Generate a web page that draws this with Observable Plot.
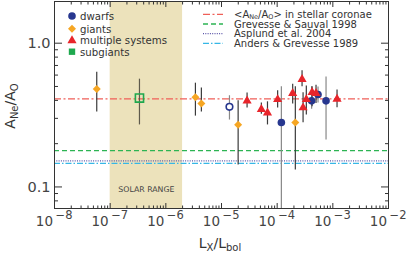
<!DOCTYPE html>
<html><head><meta charset="utf-8">
<script src="https://cdn.jsdelivr.net/npm/d3@7"></script>
<script src="https://cdn.jsdelivr.net/npm/@observablehq/plot@0.6"></script>
<style>html,body{margin:0;padding:0;background:#fff}svg{display:block}</style>
</head><body><div id="chart"></div>
<script>
// ---- data ----
const dwarfX  = [1.39e-5, 1.19e-4, 4.16e-4, 5.42e-4, 7.55e-4];
const dwarfY  = [0.361, 0.281, 0.397, 0.44, 0.397];
const dwarfLo = [0.292, 0.05, 0.347, 0.383, 0.212];
const dwarfHi = [0.431, 0.497, 0.497, 0.495, 0.583];
const dwarfOpen = [true, false, false, false, false];

const giantX  = [5.74e-8, 3.4e-6, 4.35e-6, 1.99e-5, 2.12e-4];
const giantY  = [0.48, 0.42, 0.381, 0.271, 0.281];
const giantLo = [0.332, 0.311, 0.332, 0.142, 0.131];
const giantHi = [0.629, 0.527, 0.487, 0.397, 0.497];

const multiX  = [2.88e-5, 5.2e-5, 6.7e-5, 1.02e-4, 1.9e-4, 2.8e-4, 2.92e-4, 3.34e-4, 4.24e-4, 4.99e-4, 1.19e-3];
const multiY  = [0.397, 0.347, 0.328, 0.406, 0.448, 0.56, 0.356, 0.406, 0.455, 0.448, 0.409];
const multiLo = [0.354, 0.321, 0.27, 0.354, 0.377, 0.497, 0.28, 0.316, 0.361, 0.38, 0.356];
const multiHi = [0.45, 0.383, 0.391, 0.466, 0.519, 0.642, 0.452, 0.503, 0.497, 0.51, 0.472];

const subX  = [3.36e-7];
const subY  = [0.415];
const subLo = [0.27];
const subHi = [0.562];

const refKeys   = ["coronae", "gs98", "asplund04", "ag89"];
const refValues = [0.41, 0.179, 0.152, 0.146];

const solarRange = [1e-7, 2e-6];
const solarLabel = "SOLAR RANGE";

const xMajor = [1e-8, 1e-7, 1e-6, 1e-5, 1e-4, 1e-3, 1e-2];
const xMinor = [2,3,4,5,6,7,8,9].flatMap(m => [1e-8,1e-7,1e-6,1e-5,1e-4,1e-3].map(d => m*d));
const yMajor = [0.1, 1];
const yMinor = [0.08, 0.09, 0.2, 0.3, 0.4, 0.5, 0.6, 0.7, 0.8, 0.9];

const legendCats = ["dwarfs", "giants", "multiple systems", "subgiants"];

// ---- styles ----
const FONT = "DejaVu Sans, sans-serif";
const INK = "#333";
const C = {dwarf:"#27378f", giant:"#f6a623", multi:"#e8252b", sub:"#1ea84e", solar:"#ece2bb"};
const refStyle = {
  coronae:   {stroke:"#ef5f58", dash:"7,2.5,2,2.5", w:1.3},
  gs98:      {stroke:"#2cb453", dash:"5,3", w:1.3},
  asplund04: {stroke:"#5b55a8", dash:"1,1.3", w:1.2},
  ag89:      {stroke:"#36b7e6", dash:"6,2,1.5,2", w:1.3}
};

const mk = (X,Y,Lo,Hi,extra) => X.map((x,i)=>({x, y:Y[i], lo:Lo[i], hi:Hi[i], ...(extra?extra(i):{})}));
const dwarfs = mk(dwarfX,dwarfY,dwarfLo,dwarfHi,i=>({open:dwarfOpen[i]}));
const giants = mk(giantX,giantY,giantLo,giantHi);
const multis = mk(multiX,multiY,multiLo,multiHi);
const subs   = mk(subX,subY,subLo,subHi);
const refs = refKeys.map((k,i)=>({key:k, value:refValues[i]}));

const noLabel = () => "";
const ax = {label:null, stroke:INK};
const plot = Plot.plot({
  width: 407, height: 253,
  marginLeft: 54, marginRight: 19, marginTop: 1, marginBottom: 45,
  x: {type:"log", domain:[1e-8, 1e-2], label:null},
  y: {type:"log", domain:[0.0708, 1.95], label:null},
  style: {fontFamily: FONT, color: INK, background: "white", overflow: "visible"},
  marks: [
    Plot.rect([solarRange], {x1: d=>d[0], x2: d=>d[1], fill: C.solar}),
    Plot.text([solarLabel], {x: Math.sqrt(solarRange[0]*solarRange[1]), y: 0.0955, text: d=>d, fontSize: 7.8, fill: "#444"}),
    ...refs.map(r => Plot.ruleY([r.value], {stroke: refStyle[r.key].stroke, strokeDasharray: refStyle[r.key].dash, strokeWidth: refStyle[r.key].w})),
    // error bars
    Plot.ruleX(giants, {x:"x", y1:"lo", y2:"hi", stroke:"#3a3a3a", strokeWidth:1.2, clip:true}),
    Plot.ruleX(subs,   {x:"x", y1:"lo", y2:"hi", stroke:"#5e5a4c", strokeWidth:1.2, clip:true}),
    Plot.ruleX(dwarfs, {x:"x", y1:"lo", y2:"hi", stroke:"#888", strokeWidth:1.2, clip:true}),
    Plot.ruleX(multis, {x:"x", y1:"lo", y2:"hi", stroke:"#3a3a3a", strokeWidth:1.2, clip:true}),
    // markers
    Plot.dot(giants, {x:"x", y:"y", symbol:"diamond2", r:3.6, fill:C.giant, stroke:"none"}),
    Plot.dot(subs,   {x:"x", y:"y", symbol:"square", r:4.6, fill:"none", stroke:C.sub, strokeWidth:1.6}),
    Plot.dot(dwarfs.filter(d=>!d.open), {x:"x", y:"y", symbol:"circle", r:3.8, fill:C.dwarf, stroke:"none"}),
    Plot.dot(dwarfs.filter(d=>d.open), {x:"x", y:"y", symbol:"circle", r:3.3, fill:"white", stroke:C.dwarf, strokeWidth:1.6}),
    Plot.dot(multis, {x:"x", y:"y", symbol:"triangle", r:3.4, fill:C.multi, stroke:"none"}),
    // frame & inward ticks
    Plot.frame({stroke: INK, strokeWidth: 1}),
    Plot.axisX(xMajor, {...ax, anchor:"bottom", tickSize:-5, tickFormat:noLabel}),
    Plot.axisX(xMinor, {...ax, anchor:"bottom", tickSize:-2.5, tickFormat:noLabel}),
    Plot.axisX(xMajor, {...ax, anchor:"top", tickSize:-5, tickFormat:noLabel}),
    Plot.axisX(xMinor, {...ax, anchor:"top", tickSize:-2.5, tickFormat:noLabel}),
    Plot.axisY(yMajor, {...ax, anchor:"left", tickSize:-8, tickPadding:12, tickFormat:d=>d.toFixed(1), fontSize:14.5, fill:"#444"}),
    Plot.axisY(yMinor, {...ax, anchor:"left", tickSize:-4, tickFormat:noLabel}),
    Plot.axisY(yMajor, {...ax, anchor:"right", tickSize:-8, tickFormat:noLabel}),
    Plot.axisY(yMinor, {...ax, anchor:"right", tickSize:-4, tickFormat:noLabel}),
    // x tick labels 10^k
    Plot.text(xMajor, {x:d=>d, text:()=>"10", frameAnchor:"bottom", textAnchor:"end", dx:-1.5, dy:17, fontSize:13.5, fill:"#444"}),
    Plot.text(xMajor, {x:d=>d, text:d=>"\u2212"+Math.round(-Math.log10(d)), frameAnchor:"bottom", textAnchor:"start", dx:1, dy:10, fontSize:11.5, fill:"#444"})
  ]
});
document.getElementById("chart").appendChild(plot);

// ---- labels and legends ----
const svg = d3.select(plot);
const g = svg.append("g").attr("font-family", FONT).attr("fill", "#333").attr("text-anchor","start");

// y label
const yl = g.append("text").attr("transform","translate(15,106) rotate(-90)").attr("text-anchor","middle").attr("font-size",14);
yl.append("tspan").text("A");
yl.append("tspan").attr("font-size",10).attr("dy",3).text("Ne");
yl.append("tspan").attr("dy",-3).text("/A");
yl.append("tspan").attr("font-size",10).attr("dy",3).text("O");

// x label
const xl = g.append("text").attr("x",220).attr("y",248).attr("text-anchor","middle").attr("font-size",14);
xl.append("tspan").text("L");
xl.append("tspan").attr("font-size",10).attr("dy",3).text("X");
xl.append("tspan").attr("dy",-3).text("/L");
xl.append("tspan").attr("font-size",10).attr("dy",3).text("bol");

// category legend
const catSym = [
  {type:d3.symbolCircle, size:Math.PI*3.8*3.8, fill:C.dwarf},
  {type:d3.symbolDiamond2, size:Math.PI*3.6*3.6, fill:C.giant},
  {type:d3.symbolTriangle, size:Math.PI*3.4*3.4, fill:C.multi},
  {type:d3.symbolSquare, size:Math.PI*3.6*3.6, fill:C.sub}
];
const catRows = [16, 28.7, 40.5, 51.7];
legendCats.forEach((name,i)=>{
  g.append("path").attr("transform",`translate(72,${catRows[i]})`)
    .attr("d", d3.symbol(catSym[i].type, catSym[i].size)()).attr("fill", catSym[i].fill);
  g.append("text").attr("x",80).attr("y",catRows[i]+3.8).attr("font-size",10.2).attr("text-anchor","start").text(name);
});

// reference-line legend
const refRows = [14.3, 24, 33.7, 43.3];
const refText = [
  [["<A",0],["Ne",1],["/A",0],["O",1],["> in stellar coronae",0]],
  [["Grevesse & Sauval 1998",0]],
  [["Asplund et al. 2004",0]],
  [["Anders & Grevesse 1989",0]]
];
refKeys.forEach((k,i)=>{
  const s = refStyle[k];
  g.append("line").attr("x1",203).attr("x2",223).attr("y1",refRows[i]).attr("y2",refRows[i])
    .attr("stroke",s.stroke).attr("stroke-dasharray",s.dash).attr("stroke-width",s.w);
  const t = g.append("text").attr("x",234).attr("y",refRows[i]+3.6).attr("font-size",10).attr("text-anchor","start");
  let sub = 0;
  refText[i].forEach(([str,isSub])=>{
    const ts = t.append("tspan").text(str);
    if (isSub) { ts.attr("font-size",6.5).attr("dy", sub ? 0 : 1.3); sub = 1; }
    else { if (sub) ts.attr("dy",-1.3); sub = 0; }
  });
});
</script>
</body></html>
